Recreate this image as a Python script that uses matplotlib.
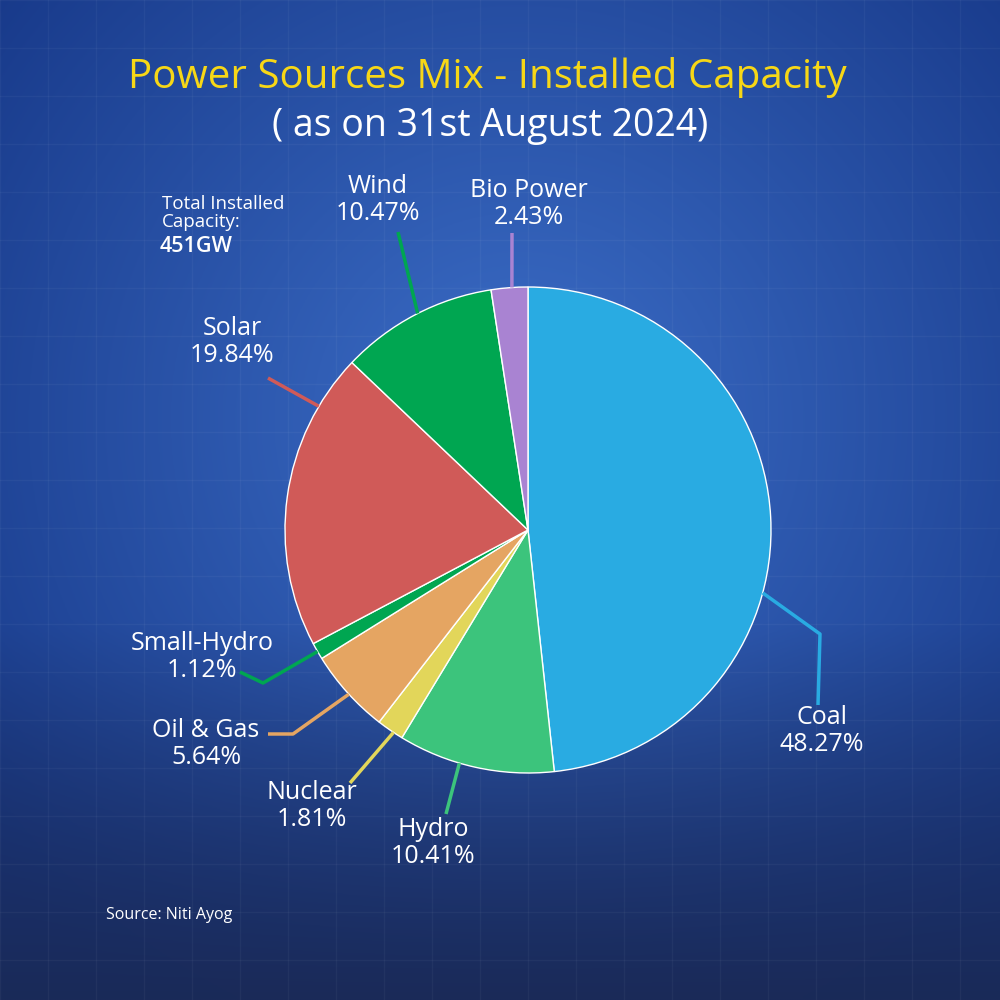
import numpy as np
import matplotlib.pyplot as plt

plt.rcParams['font.family'] = ['Open Sans', 'DejaVu Sans']

# data
sources = ['Coal', 'Hydro', 'Nuclear', 'Oil & Gas', 'Small-Hydro', 'Solar', 'Wind', 'Bio Power']
shares = [48.27, 10.41, 1.81, 5.64, 1.12, 19.84, 10.47, 2.43]
colors = ['#29abe2', '#3cc47c', '#e2d65a', '#e5a562', '#00a651', '#d05a58', '#00a651', '#a983d2']
total_gw = '451GW'

# layout (pixel coords, y measured from top)
cx, cy, rad = 528, 530, 243
attach_ang = [-15, -106.4, -123.6, -137.5, -150, 149.4, 117, 93.8]
elbows = [[(820, 634), (818, 705)],
          [(446, 814)],
          [(350, 783)],
          [(293, 734), (268, 734)],
          [(263, 683), (240, 672)],
          [(268, 378)],
          [(398, 232)],
          [(512, 233)]]
label_pos = [(822, 731), (433, 843), (312, 806), (206, 744), (202, 657), (232, 342), (378, 200), (529, 204)]


def Y(py):
    return 1000 - py


fig = plt.figure(figsize=(10, 10), dpi=100)

# background gradient
bg = fig.add_axes([0, 0, 1, 1])
bg.set_axis_off()
xx, yy = np.meshgrid(np.linspace(0, 1000, 400), np.linspace(0, 1000, 400))
d = np.sqrt((xx - 520) ** 2 + ((yy - 420) * 1.0) ** 2) / 700
d = np.clip(d, 0, 1)
c_in = np.array([0x3c, 0x6e, 0xc8]) / 255
c_out = np.array([0x17, 0x38, 0x88]) / 255
c_bot = np.array([0x1a, 0x2a, 0x58]) / 255
img = c_in[None, None, :] * (1 - d[..., None]) + c_out[None, None, :] * d[..., None]
bw = np.clip((yy - 620) / 380, 0, 1)[..., None]
img = img * (1 - bw) + c_bot[None, None, :] * bw
bg.imshow(img, extent=[0, 1000, 1000, 0], aspect='auto')
for g in np.arange(0, 1000, 48):
    bg.axvline(g, color='white', alpha=0.04, lw=1)
    bg.axhline(g, color='white', alpha=0.04, lw=1)
bg.set_xlim(0, 1000)
bg.set_ylim(1000, 0)

ax = fig.add_axes([0, 0, 1, 1])
ax.set_axis_off()
ax.patch.set_alpha(0)

ax.pie(shares, colors=colors, startangle=90, counterclock=False,
       center=(cx, Y(cy)), radius=rad, frame=True,
       wedgeprops=dict(edgecolor='white', linewidth=1))
ax.set_axis_off()
ax.set_xlim(0, 1000)
ax.set_ylim(0, 1000)

for i, name in enumerate(sources):
    a = np.deg2rad(attach_ang[i])
    xs = [cx + rad * np.cos(a)] + [p[0] for p in elbows[i]]
    ys = [Y(cy) + rad * np.sin(a)] + [Y(p[1]) for p in elbows[i]]
    ax.plot(xs, ys, color=colors[i], lw=2.5, solid_capstyle='butt')
    lx, ly = label_pos[i]
    ax.text(lx, Y(ly), f'{name}\n{shares[i]:.2f}%', color='white', fontsize=18,
            ha='center', va='center', linespacing=1.1)

ax.text(487, Y(78), 'Power Sources Mix - Installed Capacity', color='#f7d716',
        fontsize=29, ha='center', va='center')
ax.text(490, Y(126), '( as on 31st August 2024)', color='white',
        fontsize=27, ha='center', va='center')

ax.text(162, Y(213), 'Total Installed\nCapacity:', color='white', fontsize=13.5,
        ha='left', va='center', linespacing=1.0)
ax.text(160, Y(246), total_gw, color='white', fontsize=15.5, fontweight='semibold',
        ha='left', va='center')
ax.text(106, Y(915), 'Source: Niti Ayog', color='white', fontsize=11.5,
        ha='left', va='center', fontweight='medium')

fig.savefig('out.png', dpi=100)
